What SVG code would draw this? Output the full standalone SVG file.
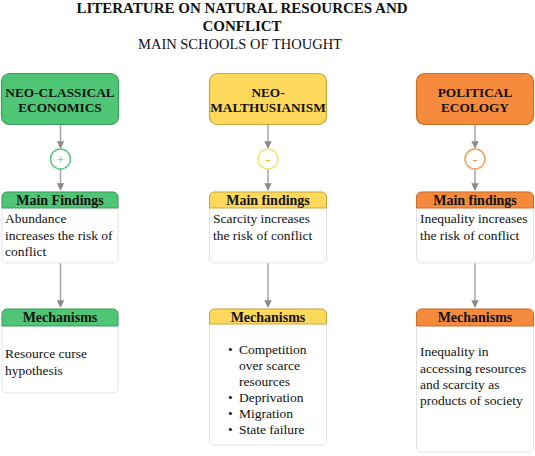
<svg xmlns="http://www.w3.org/2000/svg" width="535" height="456" viewBox="0 0 535 456">
<defs>
<marker id="arr" viewBox="0 0 10 10" refX="9" refY="5" markerWidth="5" markerHeight="5" orient="auto">
<path d="M0,0 L10,5 L0,10 z" fill="#8a8a8a"/>
</marker>
<style>
text{font-family:"Liberation Serif","Times New Roman",serif;fill:#111}
.t1{font-size:15px;font-weight:bold;text-anchor:middle}
.t2{font-size:14.5px;text-anchor:middle}
.hd{font-size:13.3px;font-weight:bold;text-anchor:middle}
.sh{font-size:14px;font-weight:bold;text-anchor:middle}
.bd{font-size:13.5px}
.conn{stroke:#a6a6a6;stroke-width:1.5;fill:none;marker-end:url(#arr)}
.body{fill:#fff;stroke:#e2e2e2;stroke-width:1}
.g{fill:#4fc676;stroke:#3b9c5b}
.y{fill:#fed95c;stroke:#c9a73a}
.o{fill:#f68a3c;stroke:#c96d2a}
</style>
</defs>
<rect width="535" height="456" fill="#fff"/>
<g id="title">
<text class="t1" x="242" y="13">LITERATURE ON NATURAL RESOURCES AND</text>
<text class="t1" x="242" y="31">CONFLICT</text>
<text class="t2" x="240" y="49">MAIN SCHOOLS OF THOUGHT</text>
</g>
<g id="connectors">
<line class="conn" x1="60.5" y1="124" x2="60.5" y2="148"/>
<line class="conn" x1="60.5" y1="169" x2="60.5" y2="190"/>
<line class="conn" x1="60.5" y1="263" x2="60.5" y2="307"/>
<line class="conn" x1="268" y1="124" x2="268" y2="148"/>
<line class="conn" x1="268" y1="169" x2="268" y2="190"/>
<line class="conn" x1="268" y1="263" x2="268" y2="307"/>
<line class="conn" x1="475" y1="124" x2="475" y2="148"/>
<line class="conn" x1="475" y1="169" x2="475" y2="190"/>
<line class="conn" x1="475" y1="263" x2="475" y2="307"/>
</g>
<g id="neo-classical">
<rect class="g" x="1.5" y="73.5" width="117" height="51" rx="8" stroke-width="1.2"/>
<text class="hd" x="60" y="97">NEO-CLASSICAL</text>
<text class="hd" x="60" y="112">ECONOMICS</text>
</g>
<g id="neo-malthusianism">
<rect class="y" x="209.5" y="73.5" width="117" height="51" rx="8" stroke-width="1.2"/>
<text class="hd" x="268" y="97">NEO-</text>
<text class="hd" x="268" y="112">MALTHUSIANISM</text>
</g>
<g id="political-ecology">
<rect class="o" x="416.5" y="73.5" width="117" height="51" rx="8" stroke-width="1.2"/>
<text class="hd" x="475" y="97">POLITICAL</text>
<text class="hd" x="475" y="112">ECOLOGY</text>
</g>
<g id="sign-plus">
<circle cx="60.5" cy="159" r="10" fill="#fff" stroke="#5cc57f" stroke-width="1.5"/>
<text x="60.5" y="163.5" font-size="13" text-anchor="middle" style="fill:#4bbf6e">+</text>
</g>
<g id="sign-minus-1">
<circle cx="268" cy="159" r="10" fill="#fff" stroke="#f3e56a" stroke-width="1.5"/>
<text x="268" y="163.5" font-size="13" text-anchor="middle" style="fill:#d6b100">-</text>
</g>
<g id="sign-minus-2">
<circle cx="475" cy="159" r="10" fill="#fff" stroke="#eea05a" stroke-width="1.5"/>
<text x="475" y="163.5" font-size="13" text-anchor="middle" style="fill:#e07a2a">-</text>
</g>
<g id="findings-1">
<rect class="body" x="2" y="192" width="116" height="71" rx="5"/>
<path class="g" d="M2,208 V197 a5,5 0 0 1 5,-5 H113 a5,5 0 0 1 5,5 V208 z" stroke="none"/>
<text class="sh" x="60" y="205">Main Findings</text>
<text class="bd" x="5" y="223">Abundance</text>
<text class="bd" x="5" y="239.5">increases the risk of</text>
<text class="bd" x="5" y="256">conflict</text>
</g>
<g id="findings-2">
<rect class="body" x="209.5" y="192" width="117" height="71" rx="5"/>
<path class="y" d="M209.5,208 V197 a5,5 0 0 1 5,-5 H321.5 a5,5 0 0 1 5,5 V208 z" stroke="none"/>
<text class="sh" x="268" y="205">Main findings</text>
<text class="bd" x="213" y="223">Scarcity increases</text>
<text class="bd" x="213" y="239.5">the risk of conflict</text>
</g>
<g id="findings-3">
<rect class="body" x="416.5" y="192" width="117" height="71" rx="5"/>
<path class="o" d="M416.5,208 V197 a5,5 0 0 1 5,-5 H528.5 a5,5 0 0 1 5,5 V208 z" stroke="none"/>
<text class="sh" x="475" y="205">Main findings</text>
<text class="bd" x="420" y="223">Inequality increases</text>
<text class="bd" x="420" y="239.5">the risk of conflict</text>
</g>
<g id="mechanisms-1">
<rect class="body" x="2" y="309" width="116" height="84" rx="5"/>
<path class="g" d="M2,326 V314 a5,5 0 0 1 5,-5 H113 a5,5 0 0 1 5,5 V326 z" stroke="none"/>
<text class="sh" x="60" y="322">Mechanisms</text>
<text class="bd" x="5" y="358">Resource curse</text>
<text class="bd" x="5" y="374.5">hypothesis</text>
</g>
<g id="mechanisms-2">
<rect class="body" x="209.5" y="309" width="117" height="136" rx="5"/>
<path class="y" d="M209.5,324 V314 a5,5 0 0 1 5,-5 H321.5 a5,5 0 0 1 5,5 V324 z" stroke="none"/>
<text class="sh" x="268" y="322">Mechanisms</text>
<text class="bd" x="228" y="354">•</text><text class="bd" x="239" y="354">Competition</text>
<text class="bd" x="239" y="370">over scarce</text>
<text class="bd" x="239" y="386">resources</text>
<text class="bd" x="228" y="402">•</text><text class="bd" x="239" y="402">Deprivation</text>
<text class="bd" x="228" y="418">•</text><text class="bd" x="239" y="418">Migration</text>
<text class="bd" x="228" y="434">•</text><text class="bd" x="239" y="434">State failure</text>
</g>
<g id="mechanisms-3">
<rect class="body" x="416.5" y="309" width="117" height="143" rx="5"/>
<path class="o" d="M416.5,326 V314 a5,5 0 0 1 5,-5 H528.5 a5,5 0 0 1 5,5 V326 z" stroke="none"/>
<text class="sh" x="475" y="322">Mechanisms</text>
<text class="bd" x="420" y="356">Inequality in</text>
<text class="bd" x="420" y="372.5">accessing resources</text>
<text class="bd" x="420" y="389">and scarcity as</text>
<text class="bd" x="420" y="405">products of society</text>
</g>
</svg>
